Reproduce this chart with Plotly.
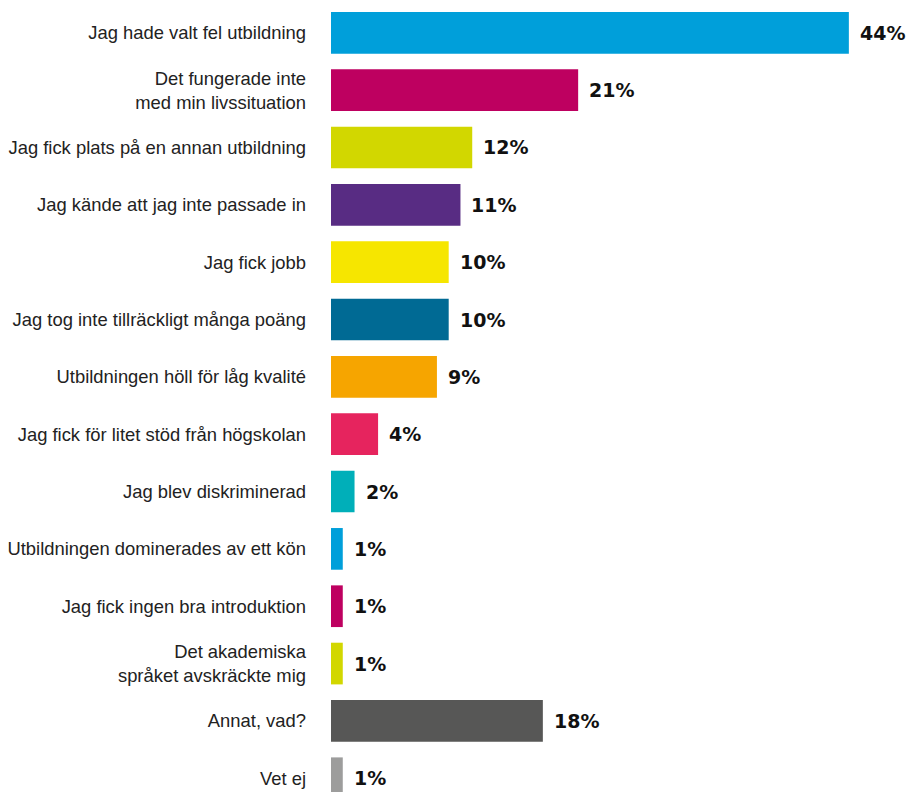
import plotly.graph_objects as go

categories = [
    "Jag hade valt fel utbildning",
    "Det fungerade inte<br>med min livssituation",
    "Jag fick plats på en annan utbildning",
    "Jag kände att jag inte passade in",
    "Jag fick jobb",
    "Jag tog inte tillräckligt många poäng",
    "Utbildningen höll för låg kvalité",
    "Jag fick för litet stöd från högskolan",
    "Jag blev diskriminerad",
    "Utbildningen dominerades av ett kön",
    "Jag fick ingen bra introduktion",
    "Det akademiska<br>språket avskräckte mig",
    "Annat, vad?",
    "Vet ej",
]
values = [44, 21, 12, 11, 10, 10, 9, 4, 2, 1, 1, 1, 18, 1]
value_labels = [f"{v}%" for v in values]
colors = [
    "#009FDA", "#BE0060", "#D2D700", "#582C83", "#F6E600", "#006A94",
    "#F6A500", "#E6245E", "#00AFB9", "#009FDA", "#BE0060", "#D2D700",
    "#575756", "#9D9D9C",
]

fig = go.Figure(go.Bar(
    x=values,
    y=categories,
    orientation="h",
    marker=dict(color=colors, line=dict(width=0)),
    width=0.727,
    hoverinfo="skip",
))

for cat, val, lab in zip(categories, values, value_labels):
    fig.add_annotation(
        x=val, y=cat, text=lab, showarrow=False,
        xanchor="left", yanchor="middle", xshift=9,
        font=dict(family="DejaVu Sans", size=19, color="#111111", weight="bold"),
    )

fig.update_layout(
    width=907,
    height=792,
    margin=dict(l=331, r=0, t=0, b=0),
    paper_bgcolor="white",
    plot_bgcolor="white",
    showlegend=False,
    xaxis=dict(range=[0, 48.94], visible=False, fixedrange=True),
    yaxis=dict(
        type="category",
        range=[13.24, -0.572],
        showgrid=False,
        zeroline=False,
        showline=False,
        ticks="",
        ticklabelstandoff=24,
        tickfont=dict(family="Liberation Sans", size=18.4, color="#222222"),
        automargin=False,
    ),
)

fig.write_html(
    "out.html",
    config={"displayModeBar": False},
    post_script="document.body.style.margin='0';document.body.style.overflow='hidden';",
)
